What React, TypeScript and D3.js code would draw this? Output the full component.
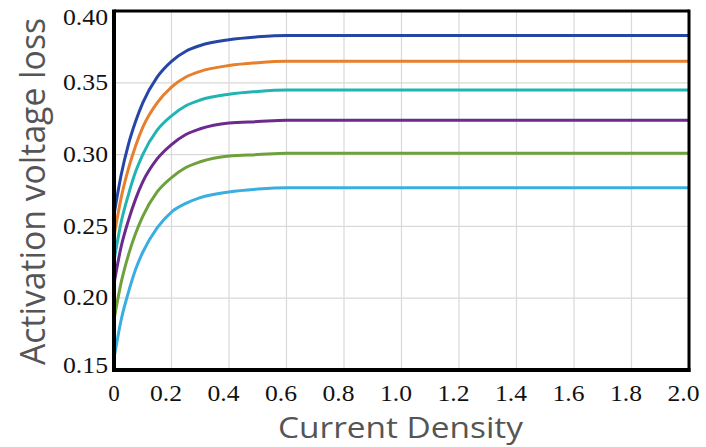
import React from "react";
import * as d3 from "d3";

const xs = [0, 0.025, 0.05, 0.075, 0.1, 0.15, 0.2, 0.25, 0.3, 0.4, 0.5, 0.6, 0.8, 1.0, 1.5, 2.0];

const seriesBlue = [0.258, 0.286, 0.307, 0.323, 0.336, 0.354, 0.365, 0.372, 0.376, 0.380, 0.382, 0.383, 0.383, 0.383, 0.383, 0.383];
const seriesOrange = [0.243, 0.270, 0.290, 0.306, 0.319, 0.336, 0.347, 0.354, 0.358, 0.362, 0.364, 0.365, 0.365, 0.365, 0.365, 0.365];
const seriesTeal = [0.226, 0.253, 0.272, 0.288, 0.300, 0.317, 0.327, 0.334, 0.338, 0.342, 0.344, 0.345, 0.345, 0.345, 0.345, 0.345];
const seriesPurple = [0.210, 0.236, 0.254, 0.269, 0.281, 0.297, 0.307, 0.314, 0.318, 0.322, 0.323, 0.324, 0.324, 0.324, 0.324, 0.324];
const seriesGreen = [0.185, 0.211, 0.230, 0.245, 0.257, 0.274, 0.284, 0.291, 0.295, 0.299, 0.300, 0.301, 0.301, 0.301, 0.301, 0.301];
const seriesLightBlue = [0.158, 0.185, 0.204, 0.220, 0.232, 0.249, 0.260, 0.266, 0.270, 0.274, 0.276, 0.277, 0.277, 0.277, 0.277, 0.277];

const seriesList = [seriesBlue, seriesOrange, seriesTeal, seriesPurple, seriesGreen, seriesLightBlue];
const seriesColors = ["#2546a6", "#e6802c", "#22b3b3", "#6b2a8c", "#6ea03c", "#3aaee0"];

const xTicks = [0, 0.2, 0.4, 0.6, 0.8, 1.0, 1.2, 1.4, 1.6, 1.8, 2.0];
const xTickLabels = ["0", "0.2", "0.4", "0.6", "0.8", "1.0", "1.2", "1.4", "1.6", "1.8", "2.0"];
const yTicks = [0.15, 0.2, 0.25, 0.3, 0.35, 0.4];
const yTickLabels = ["0.15", "0.20", "0.25", "0.30", "0.35", "0.40"];

const xTitle = "Current Density";
const yTitle = "Activation voltage loss";

export default function App() {
  const W = 706, H = 447;
  const left = 114, right = 689, top = 11, bottom = 370;
  const x = d3.scaleLinear().domain([0, 2]).range([left, right]);
  const y = d3.scaleLinear().domain([0.15, 0.4]).range([bottom, top]);
  const line = d3
    .line<number>()
    .x((_, i) => x(xs[i]))
    .y((d) => y(d))
    .curve(d3.curveMonotoneX);

  const serif = "'Liberation Serif', 'Times New Roman', serif";
  const sans = "'Open Sans', 'Noto Sans', sans-serif";

  return (
    <svg
      width={W}
      height={H}
      style={{ position: "absolute", left: 0, top: 0, background: "#fff" }}
    >
      <rect x={0} y={0} width={W} height={H} fill="#fff" />
      {xTicks.slice(1, -1).map((t) => (
        <line key={"gx" + t} x1={x(t)} x2={x(t)} y1={top} y2={bottom} stroke="#d9d9d9" strokeWidth={1.2} />
      ))}
      {yTicks.slice(1, -1).map((t) => (
        <line key={"gy" + t} x1={left} x2={right} y1={y(t)} y2={y(t)} stroke="#d9d9d9" strokeWidth={1.2} />
      ))}
      {seriesList.map((s, i) => (
        <path key={i} d={line(s) || ""} fill="none" stroke={seriesColors[i]} strokeWidth={3} />
      ))}
      <line x1={left} x2={right} y1={top} y2={top} stroke="#000" strokeWidth={3} />
      <line x1={right} x2={right} y1={top - 1.5} y2={bottom + 2} stroke="#000" strokeWidth={3} />
      <line x1={left} x2={left} y1={top - 1.5} y2={bottom + 2} stroke="#000" strokeWidth={4} />
      <line x1={left - 2} x2={right + 1.5} y1={bottom} y2={bottom} stroke="#000" strokeWidth={4} />
      {yTicks.map((t, i) => (
        <text
          key={"ty" + t}
          x={108}
          y={Math.min(Math.max(y(t) - 1, 17), 365)}
          dy="0.34em"
          textAnchor="end"
          fontFamily={serif}
          fontSize={24}
          textLength={45}
          lengthAdjust="spacingAndGlyphs"
          fill="#111"
        >
          {yTickLabels[i]}
        </text>
      ))}
      {xTicks.map((t, i) => (
        <text
          key={"tx" + t}
          x={x(t) - (t > 0 ? 5.5 : 0)}
          y={401}
          textAnchor="middle"
          fontFamily={serif}
          fontSize={23}
          textLength={t > 0 ? 32 : undefined}
          lengthAdjust="spacingAndGlyphs"
          fill="#111"
        >
          {xTickLabels[i]}
        </text>
      ))}
      <text
        x={278}
        y={438}
        fontFamily={sans}
        fontSize={30}
        textLength={245}
        lengthAdjust="spacingAndGlyphs"
        fill="#555"
      >
        {xTitle}
      </text>
      <text
        transform={`translate(45, 365) rotate(-90)`}
        fontFamily={sans}
        fontSize={34}
        textLength={347}
        lengthAdjust="spacingAndGlyphs"
        fill="#555"
      >
        {yTitle}
      </text>
    </svg>
  );
}
